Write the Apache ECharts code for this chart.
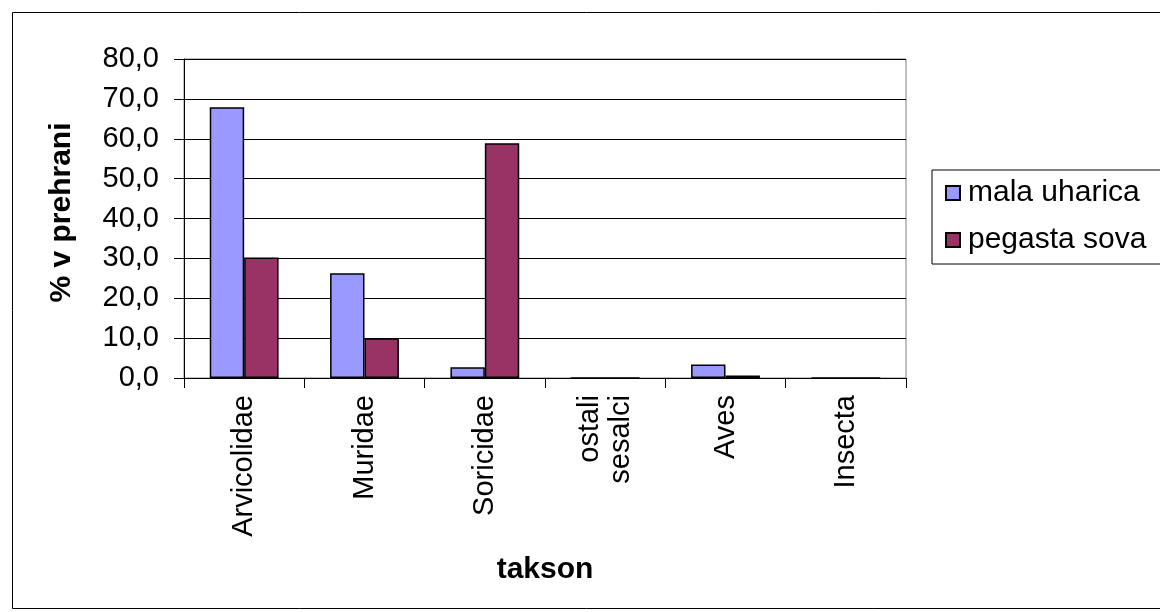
<!DOCTYPE html>
<html>
<head>
<meta charset="utf-8">
<script src="https://cdn.jsdelivr.net/npm/echarts@6/dist/echarts.min.js"></script>
<style>html,body{margin:0;padding:0;background:#fff}#c{width:1160px;height:612px}</style>
</head>
<body>
<div id="c"></div>
<script>
var categories = ['Arvicolidae', 'Muridae', 'Soricidae', 'ostali\nsesalci', 'Aves', 'Insecta'];
var malaUharica = [67.9, 26.3, 2.7, 0, 3.4, 0];
var pegastaSova = [30.2, 10.0, 58.9, 0, 0.6, 0];
var seriesNames = ['mala uharica', 'pegasta sova'];
var yTicks = {min: 0, max: 80, interval: 10};

var FONT = '"Liberation Sans", Arial, sans-serif';
var chart = echarts.init(document.getElementById('c'));
chart.setOption({
  animation: false,
  backgroundColor: '#fff',
  graphic: [{
    type: 'rect', left: 10, top: 10,
    shape: {width: 1170, height: 596},
    style: {fill: 'none', stroke: '#000', lineWidth: 1}
  }],
  grid: {left: 184, right: 254, top: 59, bottom: 234, show: true, borderColor: '#808080', borderWidth: 1},
  legend: {
    left: 932, top: 170, orient: 'vertical',
    data: seriesNames,
    itemWidth: 14, itemHeight: 14, itemGap: 15,
    icon: 'rect',
    padding: [7, 40, 8, 13],
    borderColor: '#000', borderWidth: 1,
    textStyle: {fontFamily: FONT, fontSize: 30, color: '#000', lineHeight: 32, padding: [0, 0, 0, 3]}
  },
  xAxis: {
    type: 'category', data: categories,
    name: 'takson', nameLocation: 'middle', nameGap: 177,
    nameTextStyle: {fontFamily: FONT, fontSize: 30, fontWeight: 'bold', color: '#000'},
    axisLine: {lineStyle: {color: '#000', width: 1}},
    axisTick: {show: true, length: 10, interval: 0, lineStyle: {color: '#000'}},
    axisLabel: {rotate: 90, interval: 0, margin: 17, fontFamily: FONT, fontSize: 29, color: '#000', lineHeight: 31}
  },
  yAxis: {
    type: 'value', min: yTicks.min, max: yTicks.max, interval: yTicks.interval,
    name: '% v prehrani', nameLocation: 'middle', nameGap: 107, nameRotate: 90,
    nameTextStyle: {fontFamily: FONT, fontSize: 30, fontWeight: 'bold', color: '#000', padding: [0, 0, 0, 12]},
    axisLine: {show: true, lineStyle: {color: '#000', width: 1}},
    axisTick: {show: true, length: 10, lineStyle: {color: '#000'}},
    axisLabel: {margin: 25, fontFamily: FONT, fontSize: 29, color: '#000',
      formatter: function (v) { return v.toFixed(1).replace('.', ','); }},
    splitLine: {show: true, lineStyle: {color: '#000', width: 1}}
  },
  series: [{
    name: seriesNames[0], type: 'bar', data: malaUharica,
    barGap: '0%', barCategoryGap: '42.8%',
    itemStyle: {color: '#9999FF', borderColor: '#000', borderWidth: 1.5}
  }, {
    name: seriesNames[1], type: 'bar', data: pegastaSova,
    itemStyle: {color: '#993366', borderColor: '#000', borderWidth: 1.5}
  }]
});
</script>
</body>
</html>
